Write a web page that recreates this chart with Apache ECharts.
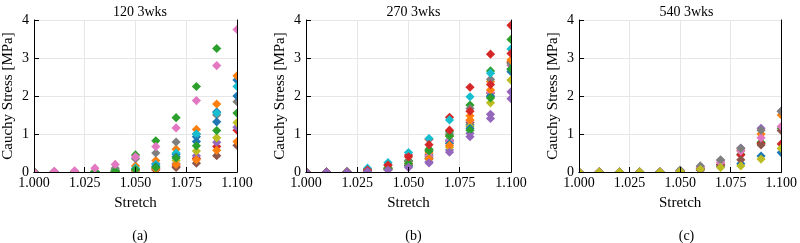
<!DOCTYPE html>
<html>
<head>
<meta charset="utf-8">
<script src="https://cdn.jsdelivr.net/npm/echarts@6/dist/echarts.min.js"></script>
<style>
  html, body { margin: 0; padding: 0; background: #fff; }
  #chart { width: 800px; height: 243px; }
</style>
</head>
<body>
<div id="chart"></div>
<script>
// x positions shared by every specimen curve
const stretch = [1.00, 1.01, 1.02, 1.03, 1.04, 1.05, 1.06, 1.07, 1.08, 1.09, 1.10];
const panelTitles = ['120 3wks', '270 3wks', '540 3wks'];
const panelTags = ['(a)', '(b)', '(c)'];

// matplotlib tab10
const tab10 = {
  blue: '#1f77b4', orange: '#ff7f0e', green: '#2ca02c', red: '#d62728', purple: '#9467bd',
  brown: '#8c564b', pink: '#e377c2', gray: '#7f7f7f', olive: '#bcbd22', cyan: '#17becf',
};

// (a) 120 3wks
const a_blue1   = [0, 0, 0, 0.01, 0.03, 0.08, 0.22, 0.47, 0.93, 1.58, 2.42];
const a_orange1 = [0, 0, 0, 0.01, 0.04, 0.16, 0.30, 0.60, 1.12, 1.79, 2.53];
const a_green1  = [0, 0, 0, 0.02, 0.05, 0.45, 0.82, 1.43, 2.25, 3.25, 4.40];
const a_red     = [0, 0, 0, 0, 0.02, 0.05, 0.08, 0.15, 0.36, 0.67, 1.10];
const a_purple  = [0, 0, 0, 0, 0.02, 0.05, 0.10, 0.22, 0.43, 0.78, 1.18];
const a_brown   = [0, 0, 0, 0, 0.01, 0.03, 0.05, 0.12, 0.23, 0.43, 0.70];
const a_gray    = [0, 0, 0, 0.02, 0.10, 0.35, 0.50, 0.79, 1.00, 1.50, 1.85];
const a_olive   = [0, 0, 0, 0.01, 0.03, 0.07, 0.14, 0.30, 0.55, 0.90, 1.30];
const a_cyan    = [0, 0, 0, 0.01, 0.03, 0.10, 0.20, 0.50, 1.00, 1.55, 2.25];
const a_blue2   = [0, 0, 0, 0, 0.02, 0.06, 0.15, 0.40, 0.80, 1.32, 2.00];
const a_orange2 = [0, 0, 0, 0, 0.01, 0.04, 0.08, 0.20, 0.32, 0.57, 0.80];
const a_green2  = [0, 0, 0, 0.01, 0.02, 0.06, 0.12, 0.37, 0.69, 1.09, 1.55];
const a_pink    = [0, 0.02, 0.03, 0.10, 0.20, 0.40, 0.67, 1.16, 1.88, 2.80, 3.75];

// (b) 270 3wks
const b_blue1   = [0, 0, 0, 0.03, 0.08, 0.20, 0.45, 0.84, 1.24, 1.98, 2.64];
const b_orange1 = [0, 0, 0, 0.04, 0.10, 0.28, 0.50, 0.95, 1.48, 2.38, 2.90];
const b_green1  = [0, 0, 0, 0.04, 0.12, 0.30, 0.60, 1.06, 1.76, 2.66, 3.49];
const b_red1    = [0, 0, 0, 0.08, 0.20, 0.45, 0.86, 1.44, 2.23, 3.10, 3.86];
const b_purple1 = [0, 0, 0, 0.02, 0.06, 0.16, 0.27, 0.58, 1.02, 1.52, 2.11];
const b_brown   = [0, 0, 0, 0.03, 0.08, 0.20, 0.40, 0.80, 1.30, 2.07, 2.88];
const b_pink    = [0, 0, 0, 0.03, 0.08, 0.20, 0.42, 0.82, 1.35, 2.10, 2.80];
const b_gray    = [0, 0, 0, 0.04, 0.10, 0.28, 0.55, 1.00, 1.67, 2.44, 2.85];
const b_olive   = [0, 0, 0, 0.02, 0.07, 0.18, 0.35, 0.65, 1.20, 1.82, 2.42];
const b_cyan    = [0, 0, 0, 0.10, 0.25, 0.51, 0.88, 1.37, 1.98, 2.60, 3.24];
const b_blue2   = [0, 0, 0, 0.02, 0.07, 0.17, 0.35, 0.75, 1.15, 2.00, 2.70];
const b_orange2 = [0, 0, 0, 0.03, 0.08, 0.22, 0.35, 0.70, 1.37, 2.16, 2.95];
const b_green2  = [0, 0, 0, 0.03, 0.09, 0.23, 0.56, 0.95, 1.10, 1.95, 2.71];
const b_red2    = [0, 0, 0, 0.05, 0.18, 0.40, 0.72, 1.10, 1.60, 2.30, 3.12];
const b_purple2 = [0, 0, 0, 0.01, 0.05, 0.12, 0.24, 0.52, 0.93, 1.41, 1.93];

// (c) 540 3wks
const c_blue    = [0, 0, 0, 0, 0, 0.02, 0.05, 0.14, 0.22, 0.42, 0.51];
const c_orange  = [0, 0, 0, 0, 0, 0.03, 0.10, 0.25, 0.57, 1.00, 1.50];
const c_green   = [0, 0, 0, 0, 0, 0.03, 0.08, 0.20, 0.47, 0.78, 1.15];
const c_red     = [0, 0, 0, 0, 0, 0.02, 0.06, 0.18, 0.45, 0.75, 0.74];
const c_purple  = [0, 0, 0, 0, 0, 0.04, 0.14, 0.30, 0.63, 1.15, 1.60];
const c_brown   = [0, 0, 0, 0, 0, 0.02, 0.08, 0.20, 0.32, 0.71, 1.09];
const c_pink    = [0, 0, 0, 0, 0, 0.03, 0.12, 0.25, 0.55, 0.90, 1.20];
const c_gray    = [0, 0, 0, 0, 0, 0.05, 0.16, 0.32, 0.62, 1.10, 1.60];
const c_olive   = [0, 0, 0, 0, 0, 0.02, 0.07, 0.12, 0.16, 0.34, 0.62];

const panels = [
  [['blue', a_blue1], ['orange', a_orange1], ['green', a_green1], ['red', a_red], ['purple', a_purple],
   ['brown', a_brown], ['gray', a_gray], ['olive', a_olive], ['cyan', a_cyan], ['blue', a_blue2],
   ['orange', a_orange2], ['green', a_green2], ['pink', a_pink]],
  [['blue', b_blue1], ['orange', b_orange1], ['green', b_green1], ['red', b_red1], ['purple', b_purple1],
   ['brown', b_brown], ['pink', b_pink], ['gray', b_gray], ['olive', b_olive], ['cyan', b_cyan],
   ['blue', b_blue2], ['orange', b_orange2], ['green', b_green2], ['red', b_red2], ['purple', b_purple2]],
  [['blue', c_blue], ['orange', c_orange], ['green', c_green], ['red', c_red], ['purple', c_purple],
   ['brown', c_brown], ['pink', c_pink], ['gray', c_gray], ['olive', c_olive]],
];

const FONT = 'Liberation Serif';
const grids = [
  { left: 33, top: 20, width: 204, height: 152 },
  { left: 306, top: 20, width: 205, height: 152 },
  { left: 579, top: 20, width: 205, height: 152 },
];

const chart = echarts.init(document.getElementById('chart'));

const xAxes = [];
const yAxes = [];
const series = [];
const titles = [];

// diamond marker, clipped to the plot box like matplotlib does
function diamond(color) {
  return (params, api) => {
    const pt = api.coord([api.value(0), api.value(1)]);
    const h = 4.6;
    return {
      type: 'polygon',
      shape: { points: [[pt[0], pt[1] - h], [pt[0] + h, pt[1]], [pt[0], pt[1] + h], [pt[0] - h, pt[1]]] },
      style: { fill: color },
    };
  };
}

grids.forEach((g, p) => {
  const cx = g.left + g.width / 2;
  titles.push({ text: panelTitles[p], left: cx, top: 0, textAlign: 'center',
    textStyle: { fontFamily: FONT, fontSize: 14, fontWeight: 'normal', color: '#000' } });
  titles.push({ text: panelTags[p], left: cx, top: 224, textAlign: 'center',
    textStyle: { fontFamily: FONT, fontSize: 14, fontWeight: 'normal', color: '#000' } });

  const xBase = { gridIndex: p, type: 'value', min: 1.0, max: 1.1, interval: 0.025 };
  const yBase = { gridIndex: p, type: 'value', min: 0, max: 4, interval: 1 };
  const xi = xAxes.length;
  const yi = yAxes.length;
  // main axes: labels, inward ticks, spines (above markers)
  xAxes.push(Object.assign({}, xBase, {
    position: 'bottom', z: 5,
    name: 'Stretch', nameLocation: 'middle', nameGap: 24,
    nameTextStyle: { fontFamily: FONT, fontSize: 15, color: '#000' },
    axisLine: { lineStyle: { color: '#000', width: 1 } },
    axisTick: { inside: true, length: 5, lineStyle: { color: '#000' } },
    axisLabel: { fontFamily: FONT, fontSize: 14, color: '#000', margin: 4,
      formatter: v => v.toFixed(3) },
    splitLine: { show: false },
  }));
  yAxes.push(Object.assign({}, yBase, {
    position: 'left', z: 5,
    name: 'Cauchy Stress [MPa]', nameLocation: 'middle', nameGap: 18,
    nameTextStyle: { fontFamily: FONT, fontSize: 15, color: '#000' },
    axisLine: { lineStyle: { color: '#000', width: 1 } },
    axisTick: { inside: true, length: 5, lineStyle: { color: '#000' } },
    axisLabel: { fontFamily: FONT, fontSize: 14, color: '#000', margin: 5 },
    splitLine: { show: false },
  }));
  // grid lines below markers
  xAxes.push(Object.assign({}, xBase, {
    position: 'bottom', z: 0, axisLine: { show: false }, axisTick: { show: false },
    axisLabel: { show: false }, splitLine: { lineStyle: { color: '#e6e6e6', width: 1 } },
  }));
  yAxes.push(Object.assign({}, yBase, {
    position: 'left', z: 0, axisLine: { show: false }, axisTick: { show: false },
    axisLabel: { show: false }, splitLine: { lineStyle: { color: '#e6e6e6', width: 1 } },
  }));
  // top / right spines
  xAxes.push(Object.assign({}, xBase, {
    position: 'top', z: 5, axisLine: { lineStyle: { color: '#000', width: 1 } },
    axisTick: { show: false }, axisLabel: { show: false }, splitLine: { show: false },
  }));
  yAxes.push(Object.assign({}, yBase, {
    position: 'right', z: 5, axisLine: { lineStyle: { color: '#000', width: 1 } },
    axisTick: { show: false }, axisLabel: { show: false }, splitLine: { show: false },
  }));

  panels[p].forEach(([c, vals]) => {
    series.push({
      type: 'custom',
      xAxisIndex: xi,
      yAxisIndex: yi,
      clip: true,
      renderItem: diamond(tab10[c]),
      encode: { x: 0, y: 1 },
      data: stretch.map((s, i) => [s, vals[i]]),
      animation: false,
    });
  });
});

chart.setOption({
  animation: false,
  backgroundColor: '#fff',
  title: titles,
  grid: grids,
  xAxis: xAxes,
  yAxis: yAxes,
  series: series,
});
</script>
</body>
</html>
